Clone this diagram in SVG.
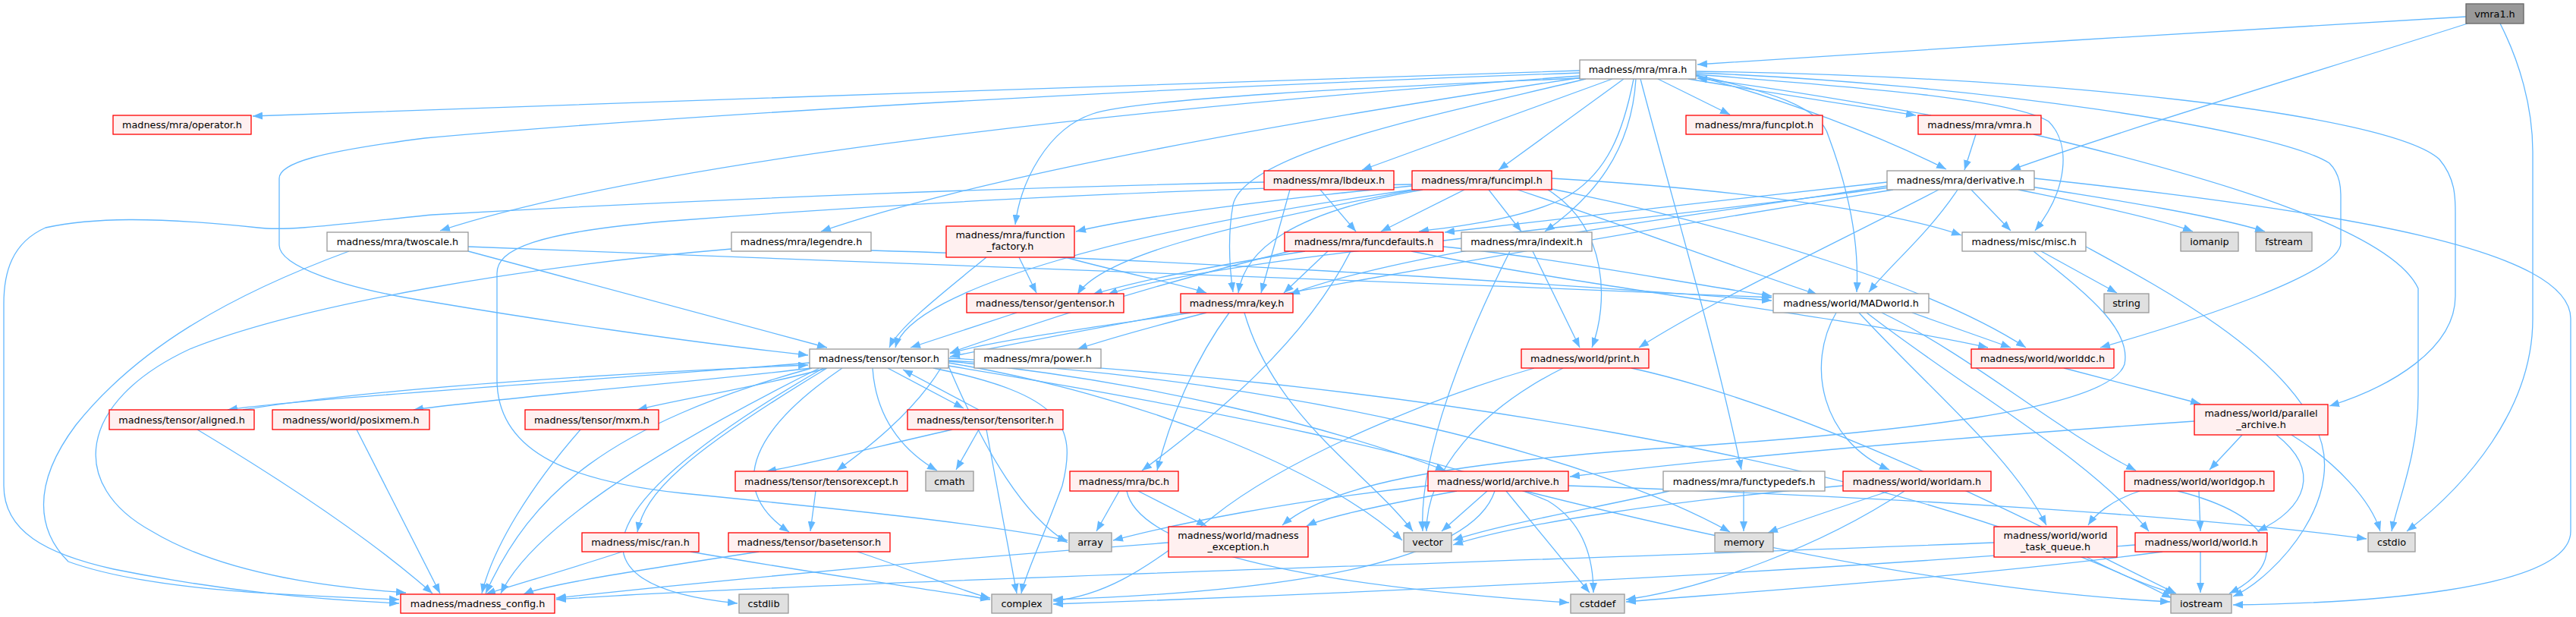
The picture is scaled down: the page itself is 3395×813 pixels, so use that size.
<svg xmlns="http://www.w3.org/2000/svg" width="3395" height="813" viewBox="0 0 3395 813">
<defs>
<marker id="ah" markerUnits="userSpaceOnUse" markerWidth="13" markerHeight="10" viewBox="0 0 13 10" refX="13" refY="5" orient="auto"><path d="M0,0 L13,5 L0,10 z" fill="#63b8ff"/></marker>
<style>
.e path{fill:none;stroke:#63b8ff;stroke-width:1.3;marker-end:url(#ah)}
rect{stroke-width:1.3}
.w rect{fill:#ffffff;stroke:#999999}
.r rect{fill:#fff0f0;stroke:#ff0000}
.x rect{fill:#e0e0e0;stroke:#999999}
.g rect{fill:#999999;stroke:#666666}
text{font-family:"DejaVu Sans","Liberation Sans",sans-serif;font-size:12.8px;fill:#000000;text-anchor:middle}
</style>
</defs>
<rect width="3395" height="813" fill="#ffffff"/>
<g class="e" id="edges">
<path d="M3250,22 C3000,35 2500,68 2237,85"/>
<path d="M3252,31 C3100,80 2800,170 2650,224"/>
<path d="M3295,31 C3320,80 3338,140 3338,200 L3338,420 C3338,540 3250,640 3172,700"/>
<path d="M2082,93 C1600,108 700,140 333,153"/>
<path d="M2082,96 C1400,120 800,160 560,182 C420,200 368,215 368,235 L368,323 C368,350 450,380 570,398 C700,420 900,450 1065,468"/>
<path d="M2083,100 C1600,135 900,200 580,304"/>
<path d="M2085,102 C1700,160 1300,230 1082,305"/>
<path d="M2084,103 C1800,115 1500,130 1440,150 C1380,170 1345,240 1338,296"/>
<path d="M2125,104 L1795,224"/>
<path d="M2140,104 L1975,224"/>
<path d="M2153,104 C2140,170 2120,230 2060,262 C2000,290 1920,298 1870,305"/>
<path d="M2156,104 C2150,200 2100,260 2036,305"/>
<path d="M2162,104 C2200,250 2260,450 2295,619"/>
<path d="M2185,104 L2280,151"/>
<path d="M2225,104 C2350,125 2450,140 2525,152"/>
<path d="M2545,152 C2450,135 2330,115 2237,103"/>
<path d="M2235,100 C2350,130 2480,180 2565,223"/>
<path d="M2235,99 C2330,120 2400,140 2410,180 C2440,260 2450,330 2447,385"/>
<path d="M2235,98 C2450,115 2650,130 2700,160 C2730,190 2725,250 2682,304"/>
<path d="M2235,96 C2600,110 3000,170 3070,215 C3085,230 3085,250 3085,260 L3085,320 C3085,360 2900,420 2768,458"/>
<path d="M2235,94 C2700,100 3150,150 3215,210 C3236,235 3236,260 3236,280 L3236,390 C3236,460 3150,510 3070,535"/>
<path d="M2090,104 C1900,150 1640,200 1625,270 C1618,310 1620,350 1625,385"/>
<path d="M2604,177 L2589,224"/>
<path d="M2680,177 C2900,230 3150,300 3187,380 L3187,520 C3187,600 3160,660 3152,700"/>
<path d="M2660,250 C2760,270 2850,290 2890,305"/>
<path d="M2670,245 C2800,265 2920,285 2985,305"/>
<path d="M2598,250 L2650,304"/>
<path d="M2580,250 C2540,310 2490,350 2463,385"/>
<path d="M2487,240 C2300,260 2050,290 1904,306"/>
<path d="M2487,245 C2200,290 1850,330 1700,388"/>
<path d="M2490,247 C2100,300 1600,340 1460,388"/>
<path d="M2495,250 C2000,330 1500,420 1252,470"/>
<path d="M2555,250 C2400,330 2250,400 2160,458"/>
<path d="M2681,235 C3100,280 3388,330 3388,420 L3388,700 C3388,780 3100,795 2943,797"/>
<path d="M1861,245 C1700,260 1500,285 1418,305"/>
<path d="M1930,250 L1820,305"/>
<path d="M1962,250 L2005,305"/>
<path d="M1875,250 C1700,280 1640,330 1632,386"/>
<path d="M1865,250 C1600,300 1450,340 1420,388"/>
<path d="M1861,250 C1500,300 1200,380 1180,458"/>
<path d="M2045,235 C2300,250 2500,280 2585,310"/>
<path d="M2000,250 C2150,300 2280,350 2395,388"/>
<path d="M2040,250 C2120,300 2120,400 2098,458"/>
<path d="M2040,248 C2300,300 2550,380 2670,458"/>
<path d="M1861,243 C1500,250 1130,272 900,290 C700,305 655,330 655,360 L655,500 C655,600 760,635 900,650 C1100,670 1300,690 1407,712"/>
<path d="M1740,250 L1787,305"/>
<path d="M1700,250 L1662,386"/>
<path d="M1666,240 C1200,250 800,270 570,283 C450,295 380,305 340,300 C200,285 120,287 60,300 C15,320 5,360 5,400 L5,640 C5,700 60,730 150,750 C300,780 420,790 526,795"/>
<path d="M617,331 C800,380 950,420 1090,458"/>
<path d="M460,331 C300,390 180,460 100,560 C40,640 50,700 90,740 C200,780 400,785 526,790"/>
<path d="M617,325 C1000,340 1700,365 2335,392"/>
<path d="M964,328 C700,350 400,400 250,460 C100,530 90,640 200,700 C300,760 450,775 535,781"/>
<path d="M1148,330 C1500,340 2000,370 2335,396"/>
<path d="M1343,339 L1366,386"/>
<path d="M1404,339 C1480,360 1560,375 1590,386"/>
<path d="M1300,339 C1250,380 1185,430 1172,458"/>
<path d="M1720,331 C1600,350 1500,370 1440,388"/>
<path d="M1750,331 L1692,386"/>
<path d="M1700,331 C1500,380 1350,430 1252,465"/>
<path d="M1780,331 C1720,450 1600,550 1505,620"/>
<path d="M1902,325 C2050,340 2200,370 2335,390"/>
<path d="M1860,331 C2100,380 2450,420 2620,458"/>
<path d="M1990,331 C1930,450 1870,600 1875,700"/>
<path d="M2020,331 L2082,458"/>
<path d="M2690,331 L2790,386"/>
<path d="M2749,325 C2850,380 3000,460 3050,560 C3100,650 3000,760 2943,786"/>
<path d="M2680,331 C2740,380 2810,430 2800,480 C2780,540 2500,570 2200,590 C1900,610 1750,640 1690,692"/>
<path d="M2520,412 L2650,458"/>
<path d="M2420,412 C2380,480 2400,580 2490,619"/>
<path d="M2450,412 C2550,520 2650,600 2697,692"/>
<path d="M2460,412 C2600,520 2750,600 2832,700"/>
<path d="M2480,412 C2600,470 2700,560 2815,620"/>
<path d="M2022,485 C1900,520 1700,600 1600,680 C1500,760 1450,785 1388,792"/>
<path d="M2060,485 C1950,540 1880,620 1880,700"/>
<path d="M2150,485 C2400,540 2700,700 2868,782"/>
<path d="M2720,485 L2900,532"/>
<path d="M2955,573 L2912,619"/>
<path d="M3000,573 C3060,620 3040,670 2975,700"/>
<path d="M3020,573 C3080,610 3125,660 3137,700"/>
<path d="M2892,555 C2600,575 2300,600 2069,628"/>
<path d="M1960,647 L1900,700"/>
<path d="M1920,647 C1850,660 1750,680 1722,693"/>
<path d="M1985,647 L2095,781"/>
<path d="M1970,647 C1940,740 1700,780 1388,790"/>
<path d="M2010,647 C2300,720 2600,780 2860,793"/>
<path d="M1882,640 C1700,660 1550,690 1467,712"/>
<path d="M2067,640 C2500,655 2900,680 3119,710"/>
<path d="M2200,647 C2100,670 1980,690 1915,712"/>
<path d="M2298,647 L2298,700"/>
<path d="M2490,647 C2420,670 2360,690 2330,702"/>
<path d="M2429,640 C2200,660 2000,690 1915,718"/>
<path d="M2510,647 C2400,720 2250,775 2143,790"/>
<path d="M2898,647 L2900,700"/>
<path d="M2820,647 C2780,660 2760,680 2752,692"/>
<path d="M2870,647 C3000,680 3020,740 2938,782"/>
<path d="M2628,715 C2000,740 1000,770 733,790"/>
<path d="M2750,734 C2800,760 2840,775 2866,782"/>
<path d="M2900,727 L2900,781"/>
<path d="M2850,727 C2600,760 2300,780 2143,793"/>
<path d="M2814,718 C2300,760 1700,785 1388,796"/>
<path d="M1067,478 C800,500 400,525 300,540"/>
<path d="M320,540 C500,510 850,490 1065,481"/>
<path d="M1070,485 C900,505 650,525 545,540"/>
<path d="M1090,485 C1000,510 900,525 840,540"/>
<path d="M1170,485 L1270,538"/>
<path d="M1290,540 L1190,487"/>
<path d="M1240,485 C1200,550 1130,600 1103,620"/>
<path d="M1150,485 C1155,560 1200,600 1235,620"/>
<path d="M1230,485 C1400,520 1420,560 1400,640 C1370,720 1350,760 1346,782"/>
<path d="M1090,485 C900,600 850,650 840,701"/>
<path d="M1110,485 C1000,560 950,640 1040,701"/>
<path d="M1070,485 C800,560 700,650 640,782"/>
<path d="M1080,485 C850,600 700,700 660,782"/>
<path d="M1085,485 C800,650 720,770 972,795"/>
<path d="M1250,482 C1300,600 1350,680 1407,715"/>
<path d="M1250,478 C1500,520 1750,620 1848,712"/>
<path d="M1250,475 C1700,500 2100,600 2280,701"/>
<path d="M1250,476 C1500,500 1750,560 1905,620"/>
<path d="M1250,482 C1600,540 1900,600 2040,660 C2090,690 2100,740 2100,781"/>
<path d="M1250,472 C1800,500 2500,600 2862,788"/>
<path d="M260,566 C400,650 500,720 570,782"/>
<path d="M470,566 L580,782"/>
<path d="M765,566 C700,640 650,720 635,782"/>
<path d="M1255,566 C1150,590 1050,615 1010,621"/>
<path d="M1290,566 L1260,619"/>
<path d="M1300,566 L1340,782"/>
<path d="M1075,647 L1068,700"/>
<path d="M820,727 C750,750 680,770 640,783"/>
<path d="M910,727 C1100,760 1250,780 1305,790"/>
<path d="M1000,727 C850,750 720,770 690,783"/>
<path d="M1130,727 C1200,750 1270,780 1305,788"/>
<path d="M1475,647 L1445,700"/>
<path d="M1500,647 L1590,693"/>
<path d="M1485,647 C1500,720 1700,770 2068,794"/>
<path d="M1540,715 C1200,740 900,770 733,788"/>
<path d="M1590,412 C1520,430 1450,450 1420,460"/>
<path d="M1620,412 C1570,480 1540,560 1525,620"/>
<path d="M1570,412 C1450,430 1300,450 1252,466"/>
<path d="M1640,412 C1680,550 1800,620 1862,700"/>
<path d="M1340,412 L1200,458"/>
</g>
<g id="n_vmra1" class="g"><rect x="3250" y="5" width="76" height="26"/><text x="3288" y="22.5">vmra1.h</text></g>
<g id="n_mra" class="w"><rect x="2082" y="79" width="153" height="25"/><text x="2158.5" y="96">madness/mra/mra.h</text></g>
<g id="n_operator" class="r"><rect x="149" y="152" width="182" height="25"/><text x="240" y="169">madness/mra/operator.h</text></g>
<g id="n_funcplot" class="r"><rect x="2222" y="152" width="180" height="25"/><text x="2312" y="169">madness/mra/funcplot.h</text></g>
<g id="n_vmra" class="r"><rect x="2528" y="152" width="162" height="25"/><text x="2609" y="169">madness/mra/vmra.h</text></g>
<g id="n_lbdeux" class="r"><rect x="1666" y="225" width="171" height="25"/><text x="1751.5" y="242">madness/mra/lbdeux.h</text></g>
<g id="n_funcimpl" class="r"><rect x="1861" y="225" width="184" height="25"/><text x="1953" y="242">madness/mra/funcimpl.h</text></g>
<g id="n_derivative" class="w"><rect x="2487" y="225" width="194" height="25"/><text x="2584" y="242">madness/mra/derivative.h</text></g>
<g id="n_twoscale" class="w"><rect x="431" y="306" width="186" height="25"/><text x="524" y="323">madness/mra/twoscale.h</text></g>
<g id="n_legendre" class="w"><rect x="964" y="306" width="184" height="25"/><text x="1056" y="323">madness/mra/legendre.h</text></g>
<g id="n_function_factory" class="r"><rect x="1247" y="298" width="169" height="41"/><text x="1331.5" y="314">madness/mra/function</text><text x="1331.5" y="329">_factory.h</text></g>
<g id="n_funcdefaults" class="r"><rect x="1693" y="306" width="209" height="25"/><text x="1797.5" y="323">madness/mra/funcdefaults.h</text></g>
<g id="n_indexit" class="w"><rect x="1926" y="306" width="172" height="25"/><text x="2012" y="323">madness/mra/indexit.h</text></g>
<g id="n_misc" class="w"><rect x="2586" y="306" width="163" height="25"/><text x="2667.5" y="323">madness/misc/misc.h</text></g>
<g id="n_iomanip" class="x"><rect x="2874" y="306" width="76" height="25"/><text x="2912" y="323">iomanip</text></g>
<g id="n_fstream" class="x"><rect x="2973" y="306" width="74" height="25"/><text x="3010" y="323">fstream</text></g>
<g id="n_gentensor" class="r"><rect x="1274" y="387" width="207" height="25"/><text x="1377.5" y="404">madness/tensor/gentensor.h</text></g>
<g id="n_key" class="r"><rect x="1556" y="387" width="148" height="25"/><text x="1630" y="404">madness/mra/key.h</text></g>
<g id="n_MADworld" class="w"><rect x="2337" y="387" width="205" height="25"/><text x="2439.5" y="404">madness/world/MADworld.h</text></g>
<g id="n_string" class="x"><rect x="2773" y="387" width="59" height="25"/><text x="2802.5" y="404">string</text></g>
<g id="n_tensor" class="w"><rect x="1067" y="460" width="183" height="25"/><text x="1158.5" y="477">madness/tensor/tensor.h</text></g>
<g id="n_power" class="w"><rect x="1284" y="460" width="167" height="25"/><text x="1367.5" y="477">madness/mra/power.h</text></g>
<g id="n_print" class="r"><rect x="2005" y="460" width="168" height="25"/><text x="2089" y="477">madness/world/print.h</text></g>
<g id="n_worlddc" class="r"><rect x="2598" y="460" width="188" height="25"/><text x="2692" y="477">madness/world/worlddc.h</text></g>
<g id="n_aligned" class="r"><rect x="144" y="540" width="191" height="26"/><text x="239.5" y="557.5">madness/tensor/aligned.h</text></g>
<g id="n_posixmem" class="r"><rect x="359" y="540" width="207" height="26"/><text x="462.5" y="557.5">madness/world/posixmem.h</text></g>
<g id="n_mxm" class="r"><rect x="692" y="540" width="176" height="26"/><text x="780" y="557.5">madness/tensor/mxm.h</text></g>
<g id="n_tensoriter" class="r"><rect x="1196" y="540" width="205" height="26"/><text x="1298.5" y="557.5">madness/tensor/tensoriter.h</text></g>
<g id="n_parallel_archive" class="r"><rect x="2892" y="533" width="176" height="40"/><text x="2980" y="549">madness/world/parallel</text><text x="2980" y="564">_archive.h</text></g>
<g id="n_tensorexcept" class="r"><rect x="969" y="621" width="227" height="26"/><text x="1082.5" y="638.5">madness/tensor/tensorexcept.h</text></g>
<g id="n_cmath" class="x"><rect x="1220" y="621" width="63" height="26"/><text x="1251.5" y="638.5">cmath</text></g>
<g id="n_bc" class="r"><rect x="1410" y="621" width="143" height="26"/><text x="1481.5" y="638.5">madness/mra/bc.h</text></g>
<g id="n_archive" class="r"><rect x="1882" y="621" width="185" height="26"/><text x="1974.5" y="638.5">madness/world/archive.h</text></g>
<g id="n_functypedefs" class="w"><rect x="2192" y="621" width="213" height="26"/><text x="2298.5" y="638.5">madness/mra/functypedefs.h</text></g>
<g id="n_worldam" class="r"><rect x="2429" y="621" width="195" height="26"/><text x="2526.5" y="638.5">madness/world/worldam.h</text></g>
<g id="n_worldgop" class="r"><rect x="2800" y="621" width="197" height="26"/><text x="2898.5" y="638.5">madness/world/worldgop.h</text></g>
<g id="n_ran" class="r"><rect x="767" y="702" width="154" height="25"/><text x="844" y="719">madness/misc/ran.h</text></g>
<g id="n_basetensor" class="r"><rect x="960" y="702" width="213" height="25"/><text x="1066.5" y="719">madness/tensor/basetensor.h</text></g>
<g id="n_array" class="x"><rect x="1409" y="702" width="56" height="25"/><text x="1437" y="719">array</text></g>
<g id="n_madness_exception" class="r"><rect x="1540" y="694" width="184" height="40"/><text x="1632" y="710">madness/world/madness</text><text x="1632" y="725">_exception.h</text></g>
<g id="n_vector" class="x"><rect x="1850" y="702" width="63" height="25"/><text x="1881.5" y="719">vector</text></g>
<g id="n_memory" class="x"><rect x="2260" y="702" width="77" height="25"/><text x="2298.5" y="719">memory</text></g>
<g id="n_world_task_queue" class="r"><rect x="2628" y="694" width="162" height="40"/><text x="2709" y="710">madness/world/world</text><text x="2709" y="725">_task_queue.h</text></g>
<g id="n_world" class="r"><rect x="2814" y="702" width="174" height="25"/><text x="2901" y="719">madness/world/world.h</text></g>
<g id="n_cstdio" class="x"><rect x="3121" y="702" width="62" height="25"/><text x="3152" y="719">cstdio</text></g>
<g id="n_madness_config" class="r"><rect x="528" y="783" width="203" height="25"/><text x="629.5" y="800">madness/madness_config.h</text></g>
<g id="n_cstdlib" class="x"><rect x="974" y="783" width="65" height="25"/><text x="1006.5" y="800">cstdlib</text></g>
<g id="n_complex" class="x"><rect x="1307" y="783" width="79" height="25"/><text x="1346.5" y="800">complex</text></g>
<g id="n_cstddef" class="x"><rect x="2070" y="783" width="71" height="25"/><text x="2105.5" y="800">cstddef</text></g>
<g id="n_iostream" class="x"><rect x="2861" y="783" width="80" height="25"/><text x="2901" y="800">iostream</text></g>
</svg>
